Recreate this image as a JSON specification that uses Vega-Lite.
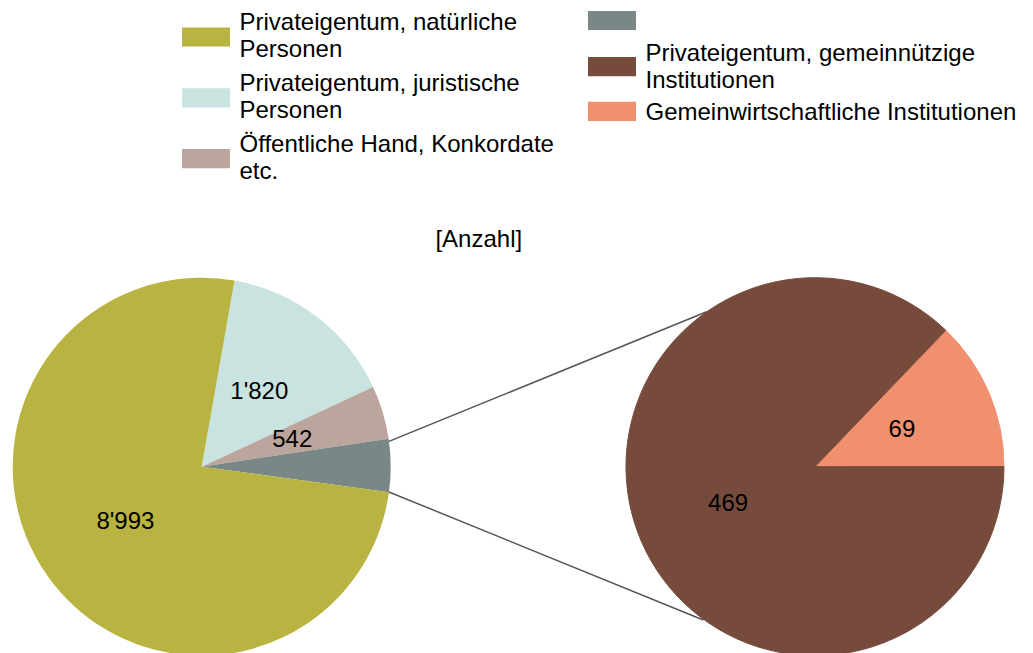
{
  "$schema": "https://vega.github.io/schema/vega-lite/v6.json",
  "width": 1033,
  "height": 398,
  "autosize": {"type": "none"},
  "padding": {"left": 0, "top": 255, "right": 0, "bottom": 0},
  "background": "white",
  "datasets": {
    "gesamt": [
      {"Kategorie": "Privateigentum, juristische Personen", "Anzahl": 1820, "Nr": 1},
      {"Kategorie": "Öffentliche Hand, Konkordate etc.", "Anzahl": 542, "Nr": 2},
      {"Kategorie": "", "Anzahl": 538, "Nr": 3},
      {"Kategorie": "Privateigentum, natürliche Personen", "Anzahl": 8993, "Nr": 4}
    ],
    "aufteilung": [
      {"Kategorie": "Gemeinwirtschaftliche Institutionen", "Anzahl": 69, "Nr": 1},
      {"Kategorie": "Privateigentum, gemeinnützige Institutionen", "Anzahl": 469, "Nr": 2}
    ]
  },
  "layer": [
    {
      "data": {"values": [{}]},
      "mark": {"type": "rule", "color": "#555555", "strokeWidth": 1.5},
      "encoding": {
        "x": {"datum": 0.3043, "type": "quantitative", "scale": {"domain": [-0.3289, 1.3555], "nice": false, "zero": false},
              "axis": {"orient": "top", "title": "[Anzahl]", "domain": false, "ticks": false, "labels": false, "grid": false, "titleFont": "Liberation Sans", "titleFontSize": 24, "titleFontWeight": "normal", "titleColor": "#000000", "titleX": 478.3, "titleY": -8.3, "titleAlign": "center", "titleBaseline": "alphabetic"}},
        "y": {"datum": 0.0408, "type": "quantitative", "scale": {"domain": [-0.3038, 0.3452], "nice": false, "zero": false}, "axis": null},
        "x2": {"datum": 0.8234},
        "y2": {"datum": 0.2527}
      }
    },
    {
      "data": {"values": [{}]},
      "mark": {"type": "rule", "color": "#555555", "strokeWidth": 1.5},
      "encoding": {
        "x": {"datum": 0.3043, "type": "quantitative",
              "axis": {"orient": "top", "title": "[Anzahl]", "domain": false, "ticks": false, "labels": false, "grid": false, "titleFont": "Liberation Sans", "titleFontSize": 24, "titleFontWeight": "normal", "titleColor": "#000000", "titleX": 478.3, "titleY": -8.3, "titleAlign": "center", "titleBaseline": "alphabetic"}},
        "y": {"datum": -0.0408, "type": "quantitative", "axis": null},
        "x2": {"datum": 0.8179},
        "y2": {"datum": -0.25}
      }
    },
    {
      "data": {"name": "gesamt"},
      "encoding": {
        "theta": {"field": "Anzahl", "type": "quantitative", "stack": true, "scale": {"range": [0.1745, 6.4577], "nice": false, "zero": true}},
        "order": {"field": "Nr", "type": "quantitative", "sort": "ascending"}
      },
      "layer": [
        {
          "mark": {"type": "arc", "outerRadius": 189, "x": {"expr": "scale('x', 0)"}, "y": {"expr": "scale('y', 0)"}},
          "encoding": {
            "fill": {
              "field": "Kategorie", "type": "nominal",
              "scale": {
                "domain": ["Privateigentum, natürliche Personen", "Privateigentum, juristische Personen", "Öffentliche Hand, Konkordate etc.", "", "Privateigentum, gemeinnützige Institutionen", "Gemeinwirtschaftliche Institutionen"],
                "range": ["#b9b441", "#c8e3e0", "#bba59d", "#798886", "#764b3c", "#f0906e"]
              },
              "legend": {
                "title": null, "orient": "none", "legendX": 194, "legendY": -244, "direction": "vertical",
                "values": ["Privateigentum, natürliche Personen", "Privateigentum, juristische Personen", "Öffentliche Hand, Konkordate etc."],
                "symbolType": "M-2,0.3667H2V1.9667H-2Z", "symbolSize": 576, "symbolStrokeWidth": 0,
                "labelFont": "Liberation Sans", "labelFontSize": 24, "labelColor": "#000000", "labelLimit": 600, "labelOffset": 21.5, "rowPadding": 9.8,
                "labelExpr": "lastindexof(datum.label, ' ') > indexof(datum.label, ' ') ? [substring(datum.label, 0, lastindexof(datum.label, ' ')), substring(datum.label, lastindexof(datum.label, ' ') + 1)] : datum.label"
              }
            },
            "strokeWidth": {
              "field": "Kategorie", "type": "nominal",
              "scale": {"domain": ["", "Privateigentum, natürliche Personen", "Privateigentum, juristische Personen", "Öffentliche Hand, Konkordate etc."], "range": [0, 0]},
              "legend": {
                "title": null, "orient": "none", "legendX": 588, "legendY": -258.5, "direction": "vertical",
                "values": [""],
                "symbolType": "M-1,-0.4H1V0.4H-1Z", "symbolSize": 2304, "symbolFillColor": "#798886", "symbolStrokeColor": "transparent",
                "labelFont": "Liberation Sans", "labelFontSize": 24, "labelColor": "#000000", "labelLimit": 600, "labelOffset": 9.5
              }
            }
          }
        },
        {
          "mark": {"type": "text", "radius": 94.5, "x": {"expr": "scale('x', 0)"}, "y": {"expr": "scale('y', 0)"}, "font": "Liberation Sans", "fontSize": 24, "fill": "#000000", "align": "center", "baseline": "middle"},
          "encoding": {
            "detail": {"field": "Kategorie", "type": "nominal"},
            "text": {"field": "Anzahl", "type": "quantitative", "format": ",", "condition": {"test": "datum.Kategorie === ''", "value": ""}}
          }
        }
      ]
    },
    {
      "data": {"name": "aufteilung"},
      "encoding": {
        "theta": {"field": "Anzahl", "type": "quantitative", "stack": true, "scale": {"range": [0.7645, 7.0477], "nice": false, "zero": true}},
        "order": {"field": "Nr", "type": "quantitative", "sort": "ascending"}
      },
      "layer": [
        {
          "mark": {"type": "arc", "outerRadius": 189, "x": {"expr": "scale('x', 1)"}, "y": {"expr": "scale('y', 0)"}},
          "encoding": {
            "fill": {
              "field": "Kategorie", "type": "nominal",
              "scale": {
                "domain": ["Privateigentum, natürliche Personen", "Privateigentum, juristische Personen", "Öffentliche Hand, Konkordate etc.", "", "Privateigentum, gemeinnützige Institutionen", "Gemeinwirtschaftliche Institutionen"],
                "range": ["#b9b441", "#c8e3e0", "#bba59d", "#798886", "#764b3c", "#f0906e"]
              },
              "legend": {
                "title": null, "orient": "none", "legendX": 194, "legendY": -244, "direction": "vertical",
                "values": ["Privateigentum, natürliche Personen", "Privateigentum, juristische Personen", "Öffentliche Hand, Konkordate etc."],
                "symbolType": "M-2,0.3667H2V1.9667H-2Z", "symbolSize": 576, "symbolStrokeWidth": 0,
                "labelFont": "Liberation Sans", "labelFontSize": 24, "labelColor": "#000000", "labelLimit": 600, "labelOffset": 21.5, "rowPadding": 9.8,
                "labelExpr": "lastindexof(datum.label, ' ') > indexof(datum.label, ' ') ? [substring(datum.label, 0, lastindexof(datum.label, ' ')), substring(datum.label, lastindexof(datum.label, ' ') + 1)] : datum.label"
              }
            },
            "stroke": {
              "field": "Kategorie", "type": "nominal",
              "scale": {"domain": ["Privateigentum, gemeinnützige Institutionen", "Gemeinwirtschaftliche Institutionen"], "range": ["#764b3c", "#f0906e"]},
              "legend": {
                "title": null, "orient": "none", "legendX": 588, "legendY": -225.3, "direction": "vertical",
                "values": ["Privateigentum, gemeinnützige Institutionen"],
                "symbolType": "M-1,0.1417H1V0.9417H-1Z", "symbolSize": 2304, "symbolStrokeWidth": 0, "symbolFillColor": "#764b3c",
                "labelFont": "Liberation Sans", "labelFontSize": 24, "labelColor": "#000000", "labelLimit": 600, "labelOffset": 9.5,
                "labelExpr": "lastindexof(datum.label, ' ') > indexof(datum.label, ' ') ? [substring(datum.label, 0, lastindexof(datum.label, ' ')), substring(datum.label, lastindexof(datum.label, ' ') + 1)] : datum.label"
              }
            },
            "opacity": {
              "field": "Kategorie", "type": "nominal",
              "scale": {"domain": ["Gemeinwirtschaftliche Institutionen", "Privateigentum, gemeinnützige Institutionen"], "range": [1, 1]},
              "legend": {
                "title": null, "orient": "none", "legendX": 588, "legendY": -166, "direction": "vertical",
                "values": ["Gemeinwirtschaftliche Institutionen"],
                "symbolType": "M-1,-0.471H1V0.329H-1Z", "symbolSize": 2304, "symbolStrokeWidth": 0, "symbolFillColor": "#f0906e",
                "labelFont": "Liberation Sans", "labelFontSize": 24, "labelColor": "#000000", "labelLimit": 600, "labelOffset": 9.5
              }
            }
          }
        },
        {
          "mark": {"type": "text", "radius": 94.5, "x": {"expr": "scale('x', 1)"}, "y": {"expr": "scale('y', 0)"}, "font": "Liberation Sans", "fontSize": 24, "fill": "#000000", "align": "center", "baseline": "middle"},
          "encoding": {
            "detail": {"field": "Kategorie", "type": "nominal"},
            "text": {"field": "Anzahl", "type": "quantitative", "format": ","}
          }
        }
      ]
    }
  ],
  "resolve": {"scale": {"theta": "independent"}},
  "config": {
    "view": {"stroke": null},
    "font": "Liberation Sans",
    "style": {"guide-label": {"lineHeight": 27}},
    "locale": {"number": {"decimal": ".", "thousands": "'", "grouping": [3], "currency": ["", ""]}}
  }
}
